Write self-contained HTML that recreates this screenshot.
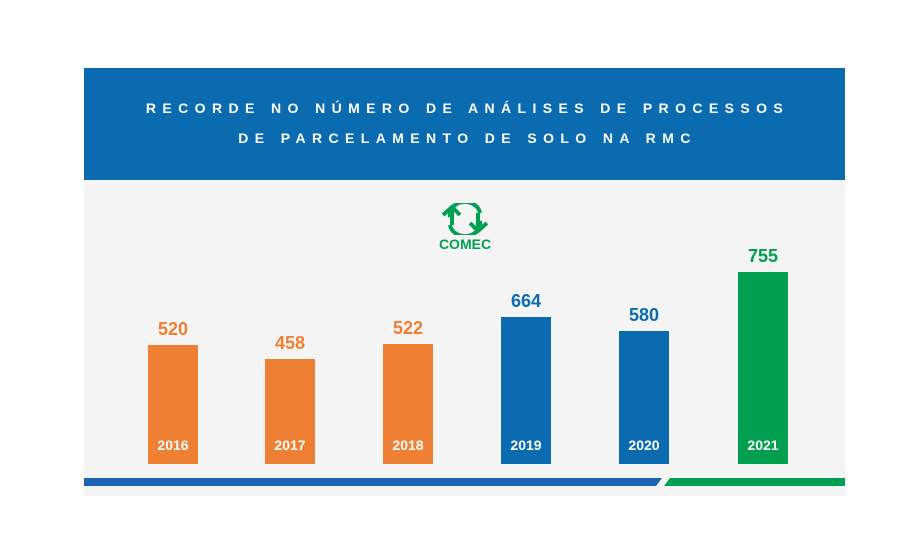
<!DOCTYPE html>
<html><head><meta charset="utf-8"><style>
body{margin:0;width:915px;height:555px;background:#fff;position:relative;overflow:hidden;font-family:"Liberation Sans",sans-serif}
.abs{position:absolute}
.hdr{left:84px;top:68px;width:761px;height:112px;background:#0a6bb0}
.t{left:84px;width:761px;text-align:center;color:#fff;font-weight:bold;font-size:14px;letter-spacing:6.4px;text-indent:6px}
.panel{left:84px;top:180px;width:761px;height:316px;background:#f4f4f4}
.bar{width:50px}
.n{width:90px;text-align:center;font-weight:bold;font-size:18px}
.y{width:50px;text-align:center;color:#fff;font-weight:bold;font-size:14px;top:437px}
</style></head><body>
<div class="abs hdr"></div>
<div class="abs t" style="top:100px">RECORDE NO NÚMERO DE ANÁLISES DE PROCESSOS</div>
<div class="abs t" style="top:130px">DE PARCELAMENTO DE SOLO NA RMC</div>
<div class="abs panel"></div>
<svg class="abs" style="left:440px;top:203px" width="50" height="32" viewBox="0 0 50 32">
<g fill="none" stroke="#00a050" stroke-width="4">
<path d="M10 14 A15 13 0 0 1 40 10"/><path d="M40 18 A15 13 0 0 1 10 22"/>
<path d="M3 12 L12 4 L20 12"/><path d="M12 6 L12 22"/>
<path d="M30 20 L38 28 L47 20"/><path d="M38 10 L38 26"/>
</g></svg>
<div class="abs" style="left:425px;top:236px;width:80px;text-align:center;color:#00a050;font-weight:bold;font-size:14px">COMEC</div>

<div class="abs bar" style="left:148px;top:345px;height:119px;background:#ee7f33"></div>
<div class="abs bar" style="left:265px;top:359px;height:105px;background:#ee7f33"></div>
<div class="abs bar" style="left:383px;top:344px;height:120px;background:#ee7f33"></div>
<div class="abs bar" style="left:501px;top:317px;height:147px;background:#0a6bb0"></div>
<div class="abs bar" style="left:619px;top:331px;height:133px;background:#0a6bb0"></div>
<div class="abs bar" style="left:738px;top:272px;height:192px;background:#00a050"></div>

<div class="abs n" style="left:128px;top:319px;color:#ee7f33">520</div>
<div class="abs n" style="left:245px;top:333px;color:#ee7f33">458</div>
<div class="abs n" style="left:363px;top:318px;color:#ee7f33">522</div>
<div class="abs n" style="left:481px;top:291px;color:#0a6bb0">664</div>
<div class="abs n" style="left:599px;top:305px;color:#0a6bb0">580</div>
<div class="abs n" style="left:718px;top:246px;color:#00a050">755</div>

<div class="abs y" style="left:148px">2016</div>
<div class="abs y" style="left:265px">2017</div>
<div class="abs y" style="left:383px">2018</div>
<div class="abs y" style="left:501px">2019</div>
<div class="abs y" style="left:619px">2020</div>
<div class="abs y" style="left:738px">2021</div>

<svg class="abs" style="left:84px;top:478px" width="761" height="8">
<polygon points="0,0 578,0 572,8 0,8" fill="#1b63b3"/>
<polygon points="586,0 761,0 761,8 580,8" fill="#00a050"/>
</svg>
</body></html>
